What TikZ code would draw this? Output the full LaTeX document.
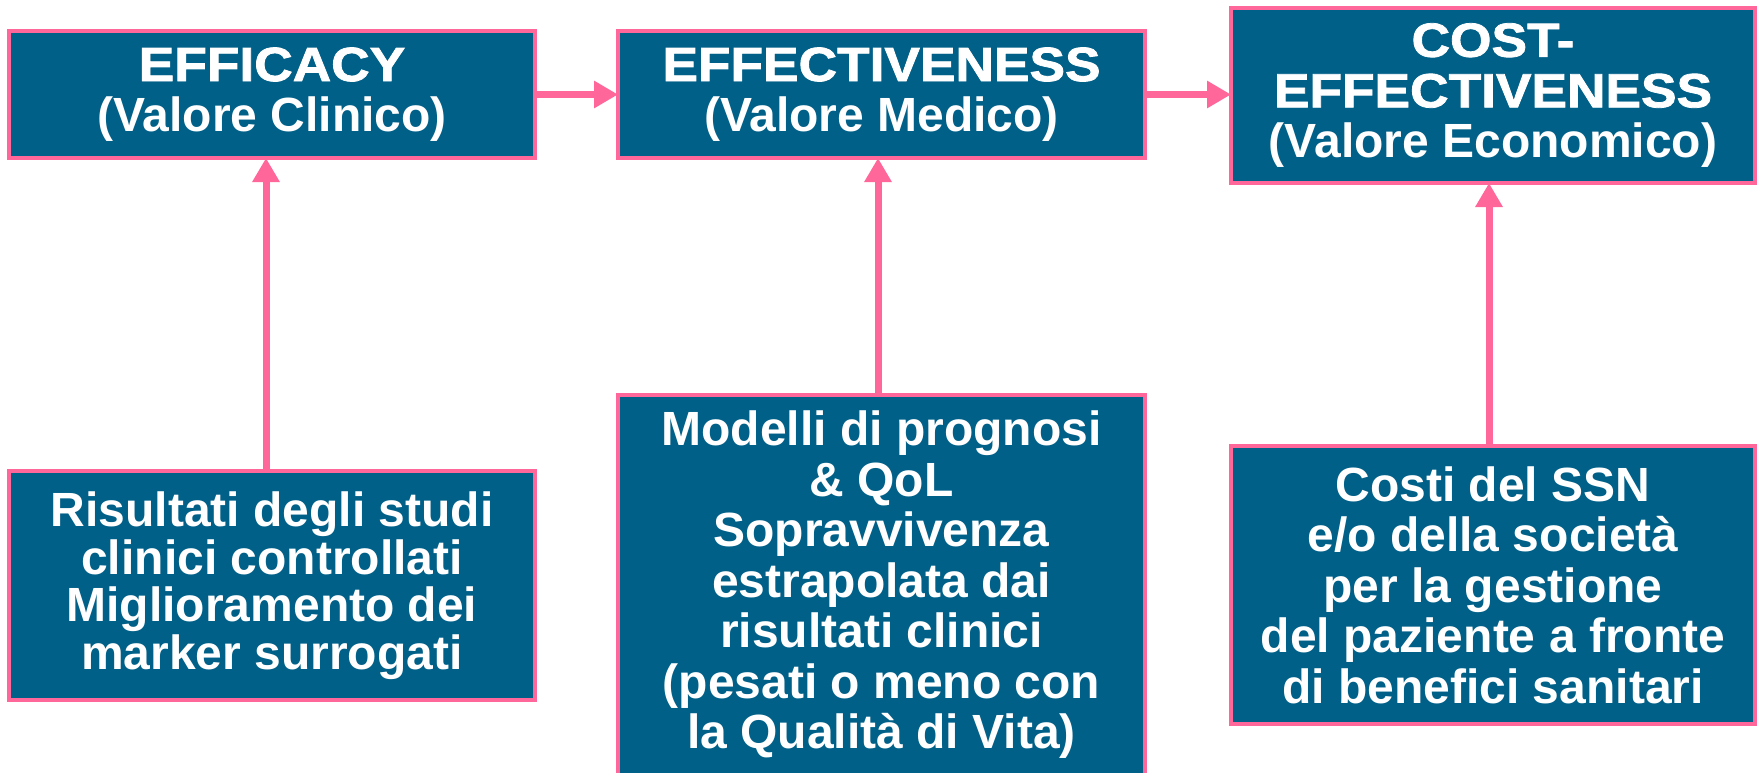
\documentclass[tikz,border=0pt]{standalone}
\usepackage{fontspec}
\usepackage{graphicx}
\setmainfont{Liberation Sans}
\newfontfamily\heavyfont[BoldFeatures={FakeBold=1.6}]{Liberation Sans}
\newcommand{\capline}[1]{{\heavyfont\bfseries\scalebox{1.11}[1]{#1}}}
\usetikzlibrary{arrows.meta}
\definecolor{boxfill}{RGB}{0,96,136}
\definecolor{pinkline}{RGB}{255,102,153}
\tikzset{
  box/.style={draw=pinkline, line width=4pt, fill=boxfill, text=white,
    font=\bfseries\fontsize{48}{50.5}\selectfont, align=center,
    inner sep=0pt, minimum width=#1},
  box/.default=526pt,
  link/.style={draw=pinkline, line width=7pt,
    -{Triangle[length=24pt,width=26pt]}, shorten >=-2pt},
}
\begin{document}
\begin{tikzpicture}[x=1pt,y=-1pt]
\useasboundingbox (0,0) rectangle (1758,772);
\node[box, minimum height=127pt] (eff) at (272,94.5) {\capline{EFFICACY}\\(Valore Clinico)};
\node[box, minimum height=127pt, minimum width=527pt] (efv) at (881.5,94.5) {\capline{EFFECTIVENESS}\\(Valore Medico)};
\node[box, minimum height=175pt, minimum width=524pt] (cef) at (1493,95.5) {\capline{COST-}\\\capline{EFFECTIVENESS}\\(Valore Economico)};
\node[box, minimum height=229pt, font=\bfseries\fontsize{48}{47.6}\selectfont] (ris) at (272,585.5) {Risultati degli studi\\clinici controllati\\Miglioramento dei\\marker surrogati};
\node[box, minimum height=380pt, minimum width=527pt] (mod) at (881.5,585) {Modelli di prognosi\\\& QoL\\Sopravvivenza\\estrapolata dai\\risultati clinici\\(pesati o meno con\\la Qualità di Vita)};
\node[box, minimum height=278pt, minimum width=524pt] (cos) at (1493,585) {Costi del SSN\\e/o della società\\per la gestione\\del paziente a fronte\\di benefici sanitari};
\draw[link] (eff.east) -- (efv.west);
\draw[link] (efv.east) -- (cef.west |- efv.east);
\draw[link] (ris.north -| 266,0) -- (eff.south -| 266,0);
\draw[link] (mod.north -| 878,0) -- (efv.south -| 878,0);
\draw[link] (cos.north -| 1489,0) -- (cef.south -| 1489,0);
\end{tikzpicture}
\end{document}
